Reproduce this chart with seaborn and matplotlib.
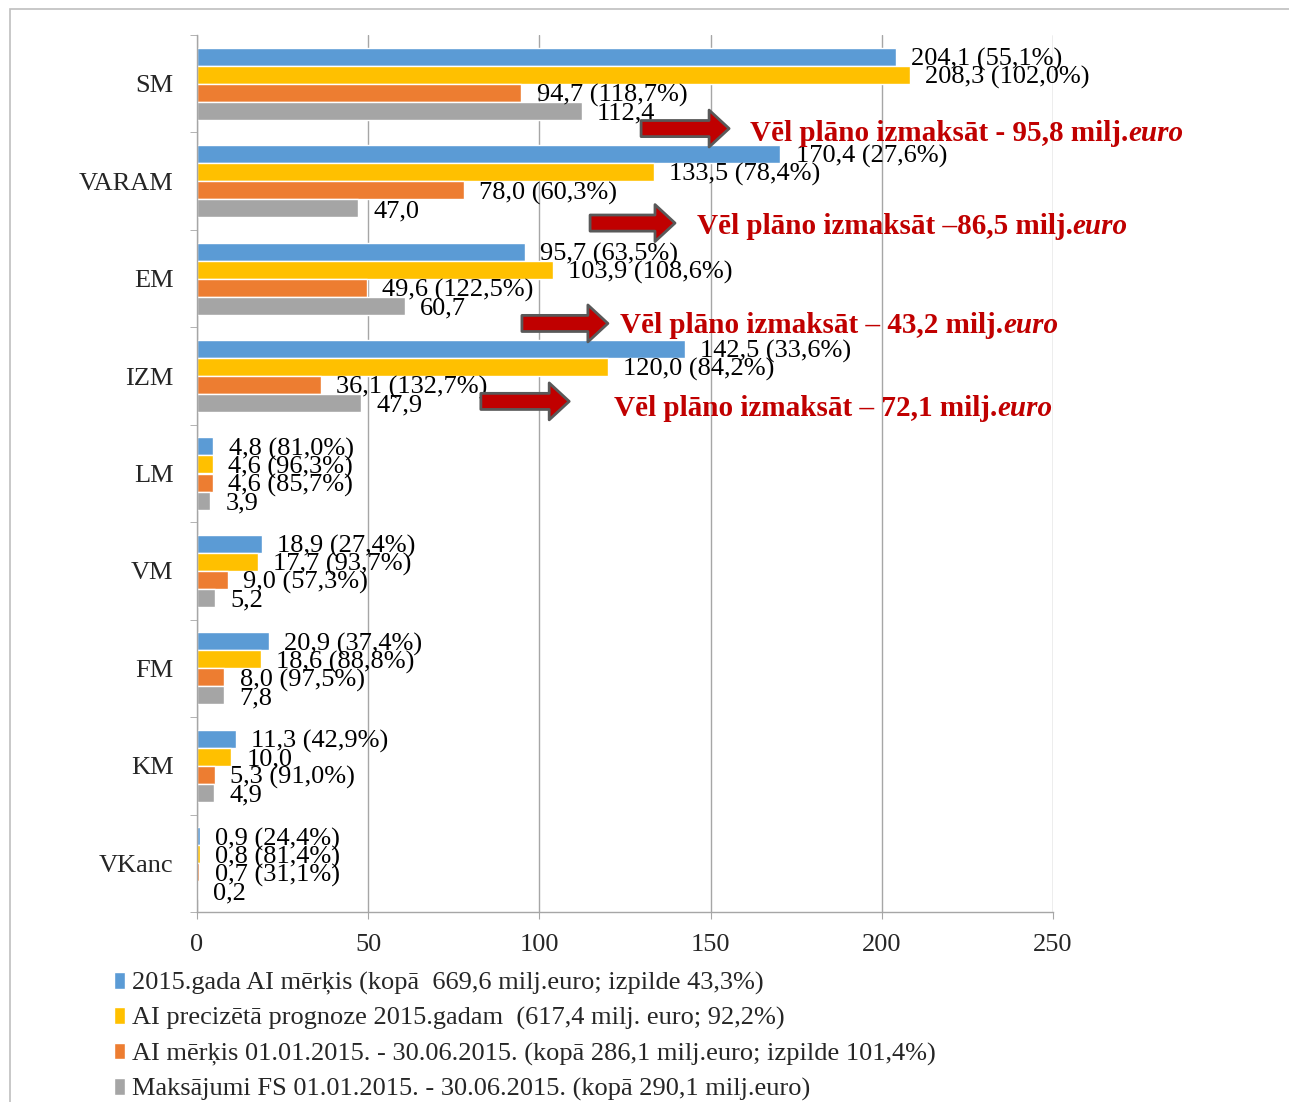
import numpy as np
import pandas as pd
import seaborn as sns
import matplotlib.pyplot as plt
from matplotlib.patches import Rectangle
from matplotlib.ticker import MultipleLocator, FixedLocator

categories = ["SM", "VARAM", "EM", "IZM", "LM", "VM", "FM", "KM", "VKanc"]
series = [
    "2015.gada AI mērķis (kopā  669,6 milj.euro; izpilde 43,3%)",
    "AI precizētā prognoze 2015.gadam  (617,4 milj. euro; 92,2%)",
    "AI mērķis 01.01.2015. - 30.06.2015. (kopā 286,1 milj.euro; izpilde 101,4%)",
    "Maksājumi FS 01.01.2015. - 30.06.2015. (kopā 290,1 milj.euro)",
]
target_year = [204.1, 170.4, 95.7, 142.5, 4.8, 18.9, 20.9, 11.3, 0.9]
forecast = [208.3, 133.5, 103.9, 120.0, 4.6, 17.7, 18.6, 10.0, 0.8]
target_half = [94.7, 78.0, 49.6, 36.1, 4.6, 9.0, 8.0, 5.3, 0.7]
payments = [112.4, 47.0, 60.7, 47.9, 3.9, 5.2, 7.8, 4.9, 0.2]
pct_target_year = ["55,1%", "27,6%", "63,5%", "33,6%", "81,0%", "27,4%", "37,4%", "42,9%", "24,4%"]
pct_forecast = ["102,0%", "78,4%", "108,6%", "84,2%", "96,3%", "93,7%", "88,8%", None, "81,4%"]
pct_target_half = ["118,7%", "60,3%", "122,5%", "132,7%", "85,7%", "57,3%", "97,5%", "91,0%", "31,1%"]
pct_payments = [None] * 9
colors = ["#5B9BD5", "#FFC000", "#ED7D31", "#A5A5A5"]

# remaining amounts to pay (callouts next to the four largest ministries)
callouts = [
    "Vēl plāno izmaksāt - 95,8 milj.",
    "Vēl plāno izmaksāt –86,5 milj.",
    "Vēl plāno izmaksāt – 43,2 milj.",
    "Vēl plāno izmaksāt – 72,1 milj.",
]
# arrow (x0, x1, y) and text (x, y) placement
arrow_pos = [(129.7, 155.4, 0.46), (114.8, 139.6, 1.43), (94.9, 120.0, 2.46), (82.9, 108.7, 3.26)]
text_pos = [(161.5, 0.51), (146.0, 1.47), (123.5, 2.48), (121.8, 3.33)]

sns.set_style("white")
plt.rcParams["font.family"] = ["Liberation Serif", "DejaVu Serif"]
FS = 19
RED = "#C00000"
GRID = "#A6A6A6"

values = [target_year, forecast, target_half, payments]
pcts = [pct_target_year, pct_forecast, pct_target_half, pct_payments]
df = pd.DataFrame({
    "cat": np.tile(categories, 4),
    "value": np.concatenate(values),
    "series": np.repeat(series, len(categories)),
})

fig = plt.figure(figsize=(12.89, 11.02), dpi=100)
ax = fig.add_axes([197 / 1289, 1 - 912 / 1102, (1053 - 197) / 1289, (912 - 35) / 1102])

sns.barplot(data=df, y="cat", x="value", hue="series", orient="h", palette=colors,
            saturation=1, width=0.74, ax=ax, errorbar=None, order=categories,
            hue_order=series)

for cont, vals, pc in zip(ax.containers, values, pcts):
    labels = []
    for v, p in zip(vals, pc):
        s = f"{v:.1f}".replace(".", ",")
        if p:
            s += f" ({p})"
        labels.append(s)
    texts = ax.bar_label(cont, labels=labels, padding=11, fontsize=FS, color="black")
    for t in texts:
        # nudge labels slightly below bar centre, as in the source
        x, y = t.xyann
        t.xyann = (x, y - 2)

ax.set_xlim(0, 250)
ax.set_ylim(8.5, -0.5)
ax.xaxis.set_major_locator(MultipleLocator(50))
ax.set_xlabel("")
ax.set_ylabel("")
ax.grid(axis="x", color=GRID, lw=1)
ax.grid(axis="y", visible=False)
ax.set_axisbelow(True)
for s in ["top", "right"]:
    ax.spines[s].set_visible(False)
for s in ["left", "bottom"]:
    ax.spines[s].set_color(GRID)
    ax.spines[s].set_linewidth(1)

ax.yaxis.set_minor_locator(FixedLocator(np.arange(-0.5, 9, 1)))
ax.tick_params(axis="y", which="major", length=0, pad=17, labelsize=FS)
ax.tick_params(axis="y", which="minor", left=True, length=5, color=GRID, direction="out")
ax.tick_params(axis="x", which="major", bottom=True, length=5, color=GRID,
               direction="out", pad=11, labelsize=FS)

arrowstyle = "simple,head_length=0.72,head_width=1.33,tail_width=0.58"
for (x0, x1, y), (tx, ty), txt in zip(arrow_pos, text_pos, callouts):
    ax.annotate("", xy=(x1, y), xytext=(x0, y), annotation_clip=False,
                arrowprops=dict(arrowstyle=arrowstyle, mutation_scale=20, fc=RED,
                                ec="#595959", lw=2, shrinkA=0, shrinkB=0))
    t = ax.text(tx, ty, txt, fontsize=21, fontweight="bold", color=RED,
                ha="left", va="center", zorder=5)
    ax.annotate("euro", xy=(1, 0), xycoords=t, ha="left", va="bottom",
                fontsize=21, fontweight="bold", fontstyle="italic", color=RED, zorder=5)

handles, labels = ax.get_legend_handles_labels()
ax.get_legend().remove()
fig.legend(handles, labels, loc="upper left", bbox_to_anchor=(114 / 1289, 1 - 972 / 1102),
           frameon=False, fontsize=FS, handlelength=0.42, handleheight=0.6,
           handletextpad=0.27, labelspacing=0.46, borderpad=0, borderaxespad=0)

fig.add_artist(Rectangle((10 / 1289, -0.05), 1.2, 0.05 + 1 - 9 / 1102,
                         transform=fig.transFigure, fill=False, ec="#BFBFBF", lw=1.2))

fig.savefig("out.png", dpi=100)
